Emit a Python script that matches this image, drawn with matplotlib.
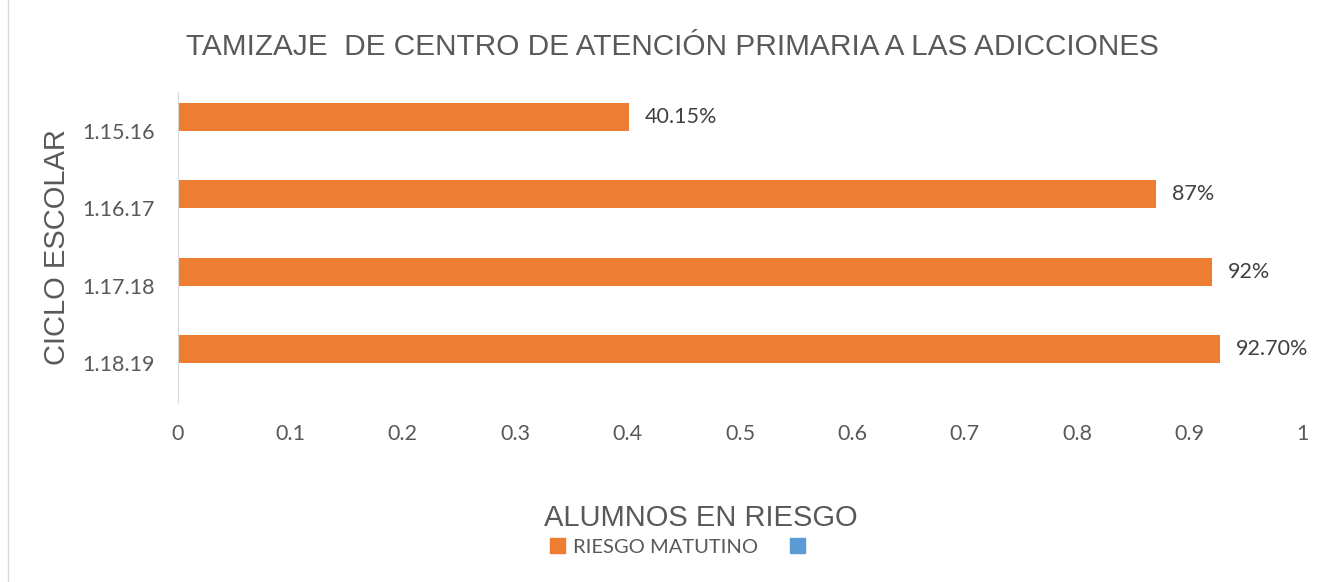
import matplotlib.pyplot as plt
from matplotlib.patches import Patch

ciclos = ['1.15.16', '1.16.17', '1.17.18', '1.18.19']
riesgo_matutino = [0.4015, 0.87, 0.92, 0.927]
etiquetas = ['40.15%', '87%', '92%', '92.70%']
xticks = [0, 0.1, 0.2, 0.3, 0.4, 0.5, 0.6, 0.7, 0.8, 0.9, 1]

gris = '#595959'
naranja = '#ED7D31'
azul = '#5B9BD5'

fig = plt.figure(figsize=(13.18, 5.82), dpi=100)
ax = fig.add_axes([178 / 1318, 180 / 582, 1124 / 1318, 310 / 582])

# el otro serie (azul) esta vacio, la barra naranja ocupa la mitad superior
y = list(range(len(ciclos)))
alto = 0.36
ax.barh([v - alto / 2 for v in y], riesgo_matutino, height=alto, color=naranja)
ax.set_yticks(y)
ax.set_yticklabels(ciclos, family='Lato', fontsize=15.5, color=gris)
ax.set_ylim(len(ciclos) - 0.5, -0.5)
ax.set_xlim(0, 1)
ax.set_xticks(xticks)
ax.set_xticklabels([('%g' % v) for v in xticks], family='Lato', fontsize=15.5, color=gris)
ax.tick_params(length=0)
ax.tick_params(axis='x', pad=16)
ax.tick_params(axis='y', pad=16.5)

for s in ['top', 'right', 'bottom']:
    ax.spines[s].set_visible(False)
ax.spines['left'].set_color('#D9D9D9')

for yi, v, t in zip(y, riesgo_matutino, etiquetas):
    ax.text(v + 0.014, yi - alto / 2, t, va='center', ha='left', family='Lato',
            fontsize=15.5, color='#404040')

fig.text(0.51, 0.92, 'TAMIZAJE  DE CENTRO DE ATENCIÓN PRIMARIA A LAS ADICCIONES',
         ha='center', va='center', family='Liberation Sans', fontsize=21.4, color=gris)
fig.text(0.532, 0.11, 'ALUMNOS EN RIESGO', ha='center', va='center',
         family='Liberation Sans', fontsize=21, color=gris)
fig.text(0.043, 0.576, 'CICLO ESCOLAR', ha='center', va='center', rotation=90,
         family='Liberation Sans', fontsize=21, color=gris)

handles = [Patch(color=naranja), Patch(color=azul)]
leg = fig.legend(handles, ['RIESGO MATUTINO', ''], loc='center', bbox_to_anchor=(0.517, 0.06),
                 ncol=2, frameon=False, handlelength=0.75, handleheight=0.75,
                 handletextpad=0.4, columnspacing=1.6,
                 prop={'family': 'Lato', 'size': 14.5})
for t in leg.get_texts():
    t.set_color(gris)

fig.add_artist(plt.Line2D([8 / 1318, 8 / 1318], [0, 1], color='#D9D9D9', lw=1))

fig.savefig('out.png', dpi=100)
